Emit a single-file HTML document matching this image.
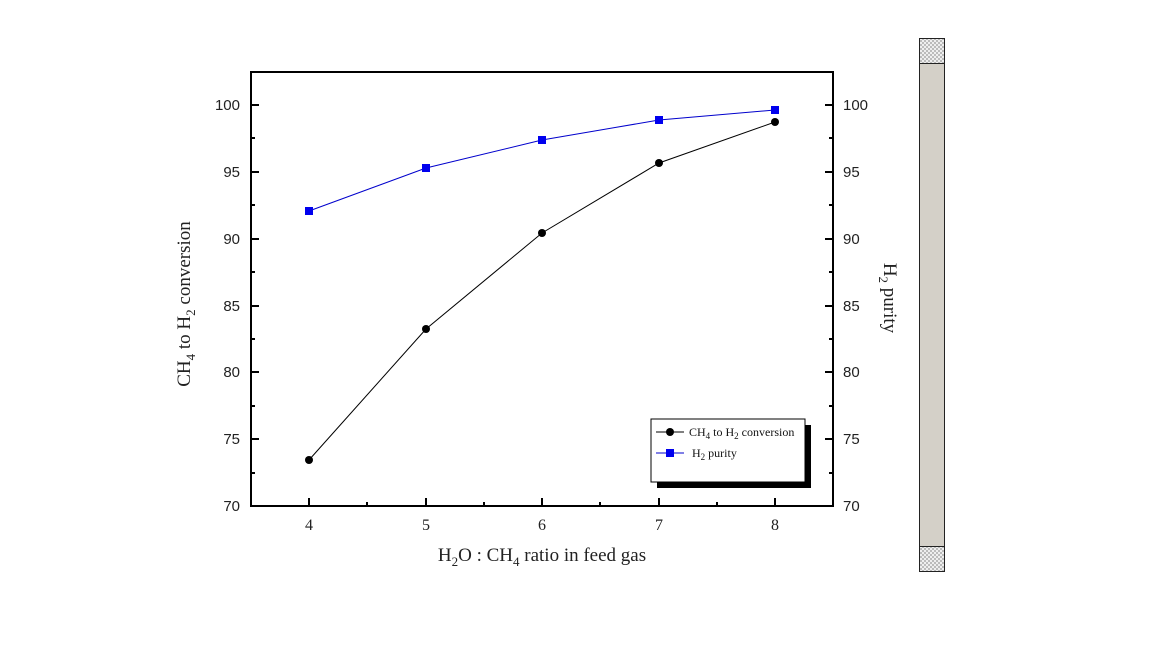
<!DOCTYPE html><html><head><style>body{margin:0;background:#fff}svg{display:block}</style></head><body>
<svg width="1152" height="648" xmlns="http://www.w3.org/2000/svg">
<defs><pattern id="h" width="4" height="4" patternUnits="userSpaceOnUse"><rect width="4" height="4" fill="#eee"/><rect width="2" height="2" fill="#bbb"/><rect x="2" y="2" width="2" height="2" fill="#bbb"/></pattern></defs>
<rect x="251" y="72" width="582" height="434" fill="none" stroke="#000" stroke-width="2"/>
<g stroke="#000" stroke-width="2">
<line x1="309" y1="506" x2="309" y2="498"/><line x1="426" y1="506" x2="426" y2="498"/><line x1="542" y1="506" x2="542" y2="498"/><line x1="659" y1="506" x2="659" y2="498"/><line x1="775" y1="506" x2="775" y2="498"/>
<line x1="367" y1="506" x2="367" y2="502"/><line x1="484" y1="506" x2="484" y2="502"/><line x1="600" y1="506" x2="600" y2="502"/><line x1="717" y1="506" x2="717" y2="502"/>
<line x1="251" y1="105" x2="259" y2="105"/><line x1="251" y1="172" x2="259" y2="172"/><line x1="251" y1="239" x2="259" y2="239"/><line x1="251" y1="306" x2="259" y2="306"/><line x1="251" y1="372" x2="259" y2="372"/><line x1="251" y1="439" x2="259" y2="439"/>
<line x1="251" y1="138" x2="255" y2="138"/><line x1="251" y1="205" x2="255" y2="205"/><line x1="251" y1="272" x2="255" y2="272"/><line x1="251" y1="339" x2="255" y2="339"/><line x1="251" y1="406" x2="255" y2="406"/><line x1="251" y1="473" x2="255" y2="473"/>
<line x1="833" y1="105" x2="825" y2="105"/><line x1="833" y1="172" x2="825" y2="172"/><line x1="833" y1="239" x2="825" y2="239"/><line x1="833" y1="306" x2="825" y2="306"/><line x1="833" y1="372" x2="825" y2="372"/><line x1="833" y1="439" x2="825" y2="439"/>
<line x1="833" y1="138" x2="829" y2="138"/><line x1="833" y1="205" x2="829" y2="205"/><line x1="833" y1="272" x2="829" y2="272"/><line x1="833" y1="339" x2="829" y2="339"/><line x1="833" y1="406" x2="829" y2="406"/><line x1="833" y1="473" x2="829" y2="473"/>
</g>
<g font-family="Liberation Sans, sans-serif" font-size="15" fill="#222" text-anchor="end">
<text x="240" y="110">100</text><text x="240" y="177">95</text><text x="240" y="244">90</text><text x="240" y="311">85</text><text x="240" y="377">80</text><text x="240" y="444">75</text><text x="240" y="511">70</text>
</g>
<g font-family="Liberation Sans, sans-serif" font-size="15" fill="#222" text-anchor="start">
<text x="843" y="110">100</text><text x="843" y="177">95</text><text x="843" y="244">90</text><text x="843" y="311">85</text><text x="843" y="377">80</text><text x="843" y="444">75</text><text x="843" y="511">70</text>
</g>
<g font-family="Liberation Serif, serif" font-size="16" fill="#222" text-anchor="middle">
<text x="309" y="530">4</text><text x="426" y="530">5</text><text x="542" y="530">6</text><text x="659" y="530">7</text><text x="775" y="530">8</text>
</g>
<text x="542" y="561" font-family="Liberation Serif, serif" font-size="19" fill="#222" text-anchor="middle">H<tspan font-size="13" dy="5">2</tspan><tspan dy="-5">O : CH</tspan><tspan font-size="13" dy="5">4</tspan><tspan dy="-5"> ratio in feed gas</tspan></text>
<text transform="translate(190,304) rotate(-90)" font-family="Liberation Serif, serif" font-size="19" fill="#222" text-anchor="middle">CH<tspan font-size="13" dy="5">4</tspan><tspan dy="-5"> to H</tspan><tspan font-size="13" dy="5">2</tspan><tspan dy="-5"> conversion</tspan></text>
<text transform="translate(884,298) rotate(90)" font-family="Liberation Serif, serif" font-size="19" fill="#222" text-anchor="middle">H<tspan font-size="13" dy="5">2</tspan><tspan dy="-5"> purity</tspan></text>
<polyline points="309,460 426,329 542,233 659,163 775,122" fill="none" stroke="#000" stroke-width="1"/>
<polyline points="309,211 426,168 542,140 659,120 775,110" fill="none" stroke="#00c" stroke-width="1"/>
<g fill="#000"><circle cx="309" cy="460" r="4"/><circle cx="426" cy="329" r="4"/><circle cx="542" cy="233" r="4"/><circle cx="659" cy="163" r="4"/><circle cx="775" cy="122" r="4"/></g>
<g fill="#0000ee"><rect x="305" y="207" width="8" height="8"/><rect x="422" y="164" width="8" height="8"/><rect x="538" y="136" width="8" height="8"/><rect x="655" y="116" width="8" height="8"/><rect x="771" y="106" width="8" height="8"/></g>
<rect x="657" y="425" width="154" height="63" fill="#000"/>
<rect x="651" y="419" width="154" height="63" fill="#fff" stroke="#000" stroke-width="1"/>
<line x1="656" y1="432" x2="684" y2="432" stroke="#000"/><circle cx="670" cy="432" r="4"/>
<line x1="656" y1="453" x2="684" y2="453" stroke="#00c"/><rect x="666" y="449" width="8" height="8" fill="#00e"/>
<text x="689" y="436" font-family="Liberation Serif, serif" font-size="12" fill="#111">CH<tspan font-size="9" dy="3">4</tspan><tspan dy="-3"> to H</tspan><tspan font-size="9" dy="3">2</tspan><tspan dy="-3"> conversion</tspan></text>
<text x="692" y="457" font-family="Liberation Serif, serif" font-size="12" fill="#111">H<tspan font-size="9" dy="3">2</tspan><tspan dy="-3"> purity</tspan></text>
<rect x="919.5" y="38.5" width="25" height="533" fill="#d4d0c8" stroke="#222"/>
<rect x="919.5" y="38.5" width="25" height="25" fill="url(#h)" stroke="#222"/>
<rect x="919.5" y="546.5" width="25" height="25" fill="url(#h)" stroke="#222"/>
</svg></body></html>
